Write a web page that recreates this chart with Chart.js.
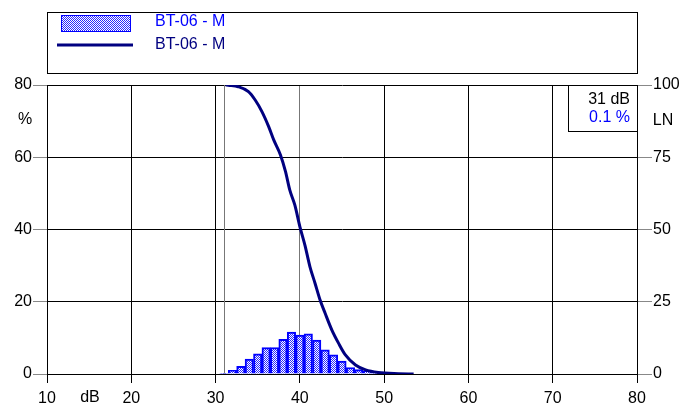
<!DOCTYPE html>
<html>
<head>
<meta charset="utf-8">
<script src="https://cdn.jsdelivr.net/npm/chart.js@4/dist/chart.umd.min.js"></script>
<style>
  html, body { margin: 0; padding: 0; background: #fff; }
  canvas { display: block; }
</style>
</head>
<body>
<canvas id="chart" width="695" height="405"></canvas>
<script>
// histogram: share of time (%) per 1 dB class
const histDb = [31, 32, 33, 34, 35, 36, 37, 38, 39, 40, 41, 42, 43, 44, 45, 46, 47, 48, 49, 50, 51];
const histPct = [0.2, 1.0, 2.1, 4.1, 5.6, 7.3, 7.3, 9.6, 11.6, 10.8, 11.1, 9.4, 6.7, 5.3, 3.6, 1.8, 1.2, 0.8, 0.5, 0.4, 0.2];

// cumulative LN curve (right axis)
const curveDb = [31.2, 31.5, 32.7, 33.9, 34.7, 35.5, 36.3, 36.9, 37.7, 38.3, 38.8, 39.4, 40.0, 40.6, 41.2, 41.8, 42.4, 43.0, 43.8, 44.6, 45.4, 46.6, 47.8, 49.3, 51.7, 53.5];
const curveLN = [100, 99.9, 99.4, 97.7, 94.8, 90.8, 85.6, 81, 75.8, 70, 63.7, 58.5, 51, 44.6, 37.1, 31.4, 25.6, 21, 15.2, 10.6, 6.6, 3.1, 1.4, 0.5, 0.1, 0];

const seriesNames = ['BT-06 - M', 'BT-06 - M'];
const markerDb = 31;
const markerPct = 0.1;

const FONT = 'Liberation Sans, Arial, sans-serif';

function checkerPattern() {
    const c = document.createElement('canvas');
    c.width = 2; c.height = 2;
    const g = c.getContext('2d');
    g.fillStyle = '#ffffff';
    g.fillRect(0, 0, 2, 2);
    g.fillStyle = '#2828ff';
    g.fillRect(0, 0, 1, 1);
    g.fillRect(1, 1, 1, 1);
    return g.createPattern(c, 'repeat');
}
const hatch = checkerPattern();

const extras = {
    id: 'extras',
    beforeDatasetsDraw(chart) {
        const { ctx, chartArea, scales } = chart;
        const x = Math.round(scales.x.getPixelForValue(markerDb)) + 0.5;
        ctx.save();
        ctx.strokeStyle = '#777';
        ctx.lineWidth = 1;
        ctx.beginPath();
        ctx.moveTo(x, chartArea.top);
        ctx.lineTo(x, chartArea.bottom);
        ctx.stroke();
        ctx.restore();
    },
    afterDraw(chart) {
        const { ctx, chartArea } = chart;
        ctx.save();
        ctx.font = '16px ' + FONT;
        ctx.textBaseline = 'middle';

        // legend box
        ctx.strokeStyle = '#000';
        ctx.lineWidth = 1;
        ctx.strokeRect(47.5, 12.5, 590, 61);
        ctx.fillStyle = hatch;
        ctx.fillRect(61, 15, 70, 17);
        ctx.strokeStyle = '#0000ff';
        ctx.lineWidth = 1;
        ctx.strokeRect(61.5, 15.5, 69, 16);
        ctx.fillStyle = '#0000ff';
        ctx.textAlign = 'left';
        ctx.fillText(seriesNames[0], 155, 22);
        ctx.strokeStyle = '#000080';
        ctx.lineWidth = 3;
        ctx.beginPath();
        ctx.moveTo(57, 45);
        ctx.lineTo(133, 45);
        ctx.stroke();
        ctx.fillStyle = '#000080';
        ctx.fillText(seriesNames[1], 155, 45);

        // marker value box
        const bx = 568, by = chartArea.top;
        ctx.fillStyle = '#fff';
        ctx.fillRect(bx, by, chartArea.right - bx, 46);
        ctx.strokeStyle = '#000';
        ctx.lineWidth = 1;
        ctx.strokeRect(bx + 0.5, by + 0.5, chartArea.right - bx, 46);
        ctx.textAlign = 'right';
        ctx.fillStyle = '#000';
        ctx.fillText(markerDb + ' dB', 630, by + 15);
        ctx.fillStyle = '#0000ff';
        ctx.fillText(markerPct + ' %', 630, by + 33);

        // axis titles
        ctx.fillStyle = '#000';
        ctx.textAlign = 'center';
        ctx.fillText('%', 25, 120);
        ctx.fillText('LN', 663, 121);
        ctx.fillText('dB', 90, 398);
        ctx.restore();
    }
};

new Chart(document.getElementById('chart'), {
    data: {
        datasets: [
            {
                type: 'line',
                label: seriesNames[1],
                data: curveDb.map((d, i) => ({ x: d, y: curveLN[i] })),
                yAxisID: 'y2',
                borderColor: '#000080',
                borderWidth: 3,
                pointRadius: 0,
                cubicInterpolationMode: 'monotone',
                fill: false,
                order: 0
            },
            {
                type: 'bar',
                label: seriesNames[0],
                data: histDb.map((d, i) => ({ x: d, y: histPct[i] })),
                yAxisID: 'y',
                backgroundColor: hatch,
                borderColor: '#0000ff',
                borderWidth: 2,
                borderSkipped: 'start',
                barPercentage: 1,
                categoryPercentage: 1,
                order: 1
            }
        ]
    },
    options: {
        responsive: false,
        animation: false,
        layout: { padding: { top: 85, left: 0, right: 0, bottom: 0 } },
        plugins: { legend: { display: false }, tooltip: { enabled: false } },
        scales: {
            x: {
                type: 'linear',
                min: 10,
                max: 80,
                offset: false,
                afterFit: s => { s.height = 31; },
                ticks: { stepSize: 10, color: '#000', font: { family: FONT, size: 16 }, padding: 6, maxRotation: 0 },
                grid: {
                    offset: false,
                    color: c => (c.tick && c.tick.value === 40 ? '#777' : '#000'),
                    lineWidth: 1,
                    tickLength: 9,
                    tickColor: '#000'
                },
                border: { color: '#000', width: 1 }
            },
            y: {
                position: 'left',
                min: 0,
                max: 80,
                afterFit: s => { s.width = 47; },
                ticks: { stepSize: 20, color: '#000', font: { family: FONT, size: 16 }, padding: 1 },
                grid: { color: '#000', lineWidth: 1, tickLength: 14, tickColor: '#888' },
                border: { color: '#000', width: 1 }
            },
            y2: {
                position: 'right',
                min: 0,
                max: 100,
                afterFit: s => { s.width = 58; },
                ticks: { stepSize: 25, color: '#000', font: { family: FONT, size: 16 }, padding: 1 },
                grid: { drawOnChartArea: false, tickLength: 15, tickColor: '#888' },
                border: { color: '#000', width: 1 }
            }
        }
    },
    plugins: [extras]
});
</script>
</body>
</html>
